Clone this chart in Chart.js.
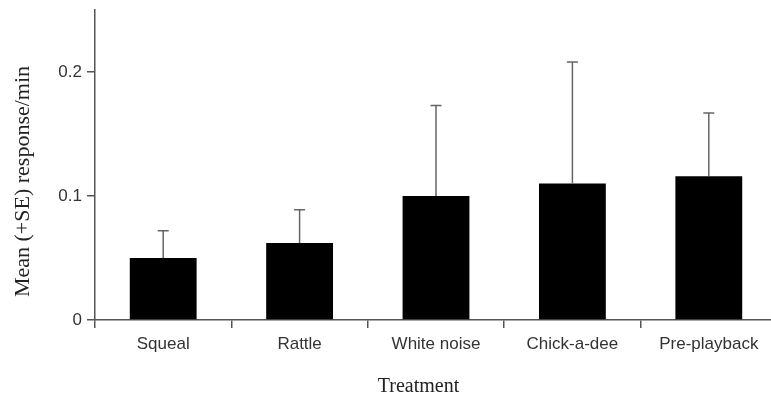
<!DOCTYPE html>
<html>
<head>
<meta charset="utf-8">
<script src="https://cdn.jsdelivr.net/npm/chart.js@4/dist/chart.umd.min.js"></script>
<style>
  html, body { margin: 0; padding: 0; background: #fff; overflow: hidden; }
  #wrap { width: 771px; height: 400px; overflow: hidden; }
</style>
</head>
<body>
<div id="wrap"><canvas id="responseChart" width="780" height="400"></canvas></div>
<script>
const treatments = ['Squeal', 'Rattle', 'White noise', 'Chick-a-dee', 'Pre-playback'];
const meanResponse = [0.050, 0.062, 0.100, 0.110, 0.116];
const seResponse = [0.022, 0.027, 0.073, 0.098, 0.051];
const yTicks = [0, 0.1, 0.2];

const axisGrey = '#555';
const sansFont = "'Liberation Sans', Arial, sans-serif";
const serifFont = "'Liberation Serif', 'Times New Roman', serif";

// draws the +SE whiskers on top of each bar
const errorBars = {
    id: 'errorBars',
    afterDatasetsDraw(chart) {
        const ctx = chart.ctx;
        const x = chart.scales.x;
        const y = chart.scales.y;
        ctx.save();
        ctx.strokeStyle = '#666';
        ctx.lineWidth = 1.5;
        meanResponse.forEach((m, i) => {
            const px = x.getPixelForValue(i);
            const top = y.getPixelForValue(m + seResponse[i]);
            const base = y.getPixelForValue(m);
            ctx.beginPath();
            ctx.moveTo(px, base);
            ctx.lineTo(px, top);
            ctx.moveTo(px - 5.5, top);
            ctx.lineTo(px + 5.5, top);
            ctx.stroke();
        });
        ctx.restore();
    }
};

const responseChart = new Chart(document.getElementById('responseChart').getContext('2d'), {
    type: 'bar',
    data: {
        labels: treatments,
        datasets: [{
            data: meanResponse,
            backgroundColor: '#000',
            borderWidth: 0,
            barPercentage: 0.49,
            categoryPercentage: 1
        }]
    },
    options: {
        responsive: false,
        animation: false,
        layout: { padding: { top: 10, right: 3, bottom: 0, left: 0 } },
        plugins: {
            legend: { display: false },
            tooltip: { enabled: false }
        },
        scales: {
            x: {
                afterFit(scale) { scale.height = 80; },
                border: { color: axisGrey, width: 1.5 },
                grid: {
                    drawOnChartArea: false,
                    drawTicks: true,
                    tickLength: 8,
                    color: axisGrey,
                    lineWidth: 1.5
                },
                ticks: {
                    color: '#333',
                    font: { family: sansFont, size: 17 },
                    padding: 6,
                    maxRotation: 0
                },
                title: {
                    display: true,
                    text: 'Treatment       ',
                    color: '#222',
                    font: { family: serifFont, size: 20 },
                    padding: { top: 0, bottom: 1 }
                }
            },
            y: {
                min: 0,
                max: 0.25,
                afterFit(scale) {
                    scale.width = 95;
                    scale.paddingTop = 0;
                    scale.paddingBottom = 0;
                },
                afterBuildTicks(scale) { scale.ticks = yTicks.map(v => ({ value: v })); },
                border: { color: axisGrey, width: 1.5 },
                grid: {
                    drawOnChartArea: false,
                    drawTicks: true,
                    tickLength: 8,
                    color: axisGrey,
                    lineWidth: 1.5
                },
                ticks: {
                    color: '#333',
                    font: { family: sansFont, size: 17 },
                    padding: 5,
                    callback: v => String(v)
                },
                title: {
                    display: true,
                    text: 'Mean (+SE) response/min      ',
                    color: '#222',
                    font: { family: serifFont, size: 22 },
                    padding: { top: 10, bottom: 0 }
                }
            }
        }
    },
    plugins: [errorBars]
});
</script>
</body>
</html>
